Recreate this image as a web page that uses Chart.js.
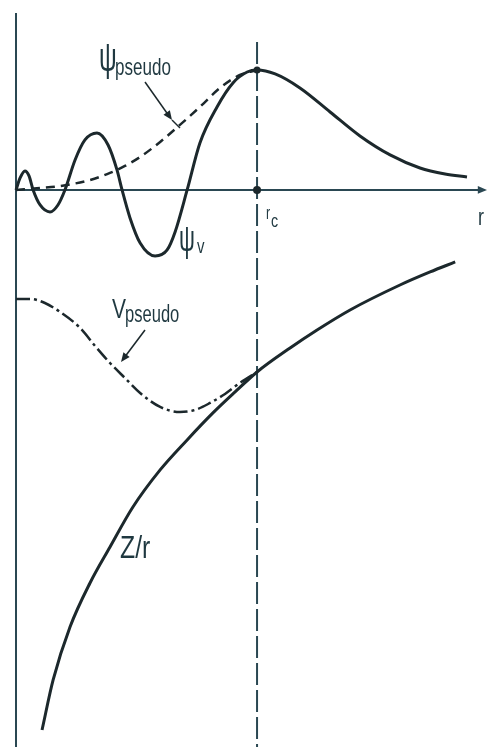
<!DOCTYPE html>
<html>
<head>
<meta charset="utf-8">
<script src="https://cdn.jsdelivr.net/npm/chart.js@4"></script>
<style>
  html, body { margin: 0; padding: 0; background: #fff; }
  #wrap { width: 487px; height: 747px; position: relative; }
</style>
</head>
<body>
<div id="wrap"><canvas id="myChart"></canvas></div>
<script>
// r in units of r_c, y in arbitrary units (psi peak = 1)
const psiVR = [0, 0.017, 0.037, 0.054, 0.071, 0.100, 0.141, 0.174, 0.203, 0.245, 0.286, 0.336, 0.382, 0.419, 0.440, 0.473, 0.515, 0.577, 0.627, 0.660, 0.710, 0.763, 0.834, 0.900, 0.959, 1.000, 1.075, 1.178, 1.303, 1.427, 1.552, 1.676, 1.780, 1.871];
const psiV  = [0, 0.10, 0.158, 0.117, 0, -0.125, -0.183, -0.125, 0, 0.25, 0.417, 0.475, 0.375, 0.167, 0, -0.233, -0.442, -0.55, -0.50, -0.35, 0, 0.392, 0.692, 0.892, 0.983, 1.0, 0.967, 0.85, 0.65, 0.45, 0.292, 0.183, 0.133, 0.108];

const psiPsR = [0, 0.100, 0.183, 0.307, 0.390, 0.452, 0.515, 0.598, 0.680, 0.763, 0.846, 0.929, 1.000];
const psiPs  = [0, 0.017, 0.033, 0.083, 0.142, 0.20, 0.275, 0.40, 0.542, 0.692, 0.85, 0.958, 1.0];

const vPsR = [0, 0.058, 0.120, 0.183, 0.266, 0.328, 0.390, 0.452, 0.515, 0.598, 0.680, 0.743, 0.805, 0.867, 0.929, 1.000];
const vPs  = [-0.908, -0.908, -0.942, -1.017, -1.15, -1.30, -1.442, -1.567, -1.692, -1.808, -1.85, -1.833, -1.775, -1.70, -1.608, -1.517];

const zrR = [0.108, 0.154, 0.224, 0.307, 0.390, 0.485, 0.598, 0.710, 0.817, 0.909, 1.000, 1.137, 1.249, 1.386, 1.593, 1.718, 1.822];
const zr  = [-4.5, -4.083, -3.642, -3.275, -2.975, -2.642, -2.333, -2.083, -1.858, -1.683, -1.517, -1.317, -1.167, -1.0, -0.792, -0.683, -0.60];

const rc = 1.0;
const rAxisEnd = 1.925;

const ink = '#1c282c';
const axisInk = '#2a4752';
const textInk = '#1f3840';

function pts(xs, ys) {
    return xs.map((x, i) => ({ x: x, y: ys[i] }));
}

function arrowHead(ctx, x1, y1, x2, y2, size) {
    const a = Math.atan2(y2 - y1, x2 - x1);
    ctx.beginPath();
    ctx.moveTo(x2, y2);
    ctx.lineTo(x2 - size * Math.cos(a - 0.4), y2 - size * Math.sin(a - 0.4));
    ctx.lineTo(x2 - size * Math.cos(a + 0.4), y2 - size * Math.sin(a + 0.4));
    ctx.closePath();
    ctx.fill();
}

// narrow text: scale horizontally around the start point
function narrowText(ctx, str, x, y, size, sx) {
    ctx.save();
    ctx.translate(x, y);
    ctx.scale(sx, 1);
    ctx.font = size + 'px "Liberation Sans"';
    ctx.fillText(str, 0, 0);
    ctx.restore();
}

const decor = {
    id: 'decor',
    beforeDatasetsDraw(chart) {
        const ctx = chart.ctx;
        const xs = chart.scales.x, ys = chart.scales.y;
        const X = v => xs.getPixelForValue(v), Y = v => ys.getPixelForValue(v);
        ctx.save();
        ctx.strokeStyle = axisInk;
        ctx.fillStyle = axisInk;
        ctx.lineWidth = 2;
        ctx.beginPath();
        ctx.moveTo(X(0), Y(1.475));
        ctx.lineTo(X(0), chart.height);
        ctx.stroke();
        ctx.beginPath();
        ctx.moveTo(X(0), Y(0));
        ctx.lineTo(X(rAxisEnd), Y(0));
        ctx.stroke();
        arrowHead(ctx, X(rAxisEnd) - 5, Y(0), X(rAxisEnd) + 7, Y(0), 10);
        ctx.setLineDash([22, 5]);
        ctx.beginPath();
        ctx.moveTo(X(rc), Y(1.233));
        ctx.lineTo(X(rc), chart.height);
        ctx.stroke();
        ctx.restore();
    },
    afterDatasetsDraw(chart) {
        const ctx = chart.ctx;
        const xs = chart.scales.x, ys = chart.scales.y;
        const X = v => xs.getPixelForValue(v), Y = v => ys.getPixelForValue(v);
        ctx.save();
        ctx.fillStyle = ink;
        ctx.strokeStyle = ink;
        ctx.beginPath();
        ctx.arc(X(rc), Y(0), 4, 0, Math.PI * 2);
        ctx.fill();
        ctx.beginPath();
        ctx.arc(X(rc), Y(1.0), 3.5, 0, Math.PI * 2);
        ctx.fill();

        ctx.fillStyle = textInk;
        ctx.textBaseline = 'alphabetic';
        // psi pseudo
        narrowText(ctx, '\u03C8', 99, 71, 40, 0.62);
        narrowText(ctx, 'pseudo', 115, 75, 24, 0.71);
        // psi v
        narrowText(ctx, '\u03C8', 179, 251, 36, 0.62);
        narrowText(ctx, 'v', 197, 253, 20, 0.75);
        // V pseudo
        narrowText(ctx, 'V', 112, 318, 28, 0.75);
        narrowText(ctx, 'pseudo', 125, 322, 23, 0.72);
        // Z/r
        narrowText(ctx, 'Z/r', 120, 558, 31, 0.8);
        // r_c
        narrowText(ctx, 'r', 266, 219, 18, 0.7);
        narrowText(ctx, 'c', 271, 227, 19, 0.75);
        // r
        narrowText(ctx, 'r', 478, 225, 24, 0.75);

        ctx.fillStyle = ink;
        ctx.lineWidth = 1.5;
        ctx.beginPath();
        ctx.moveTo(145, 82);
        ctx.lineTo(169, 116);
        ctx.stroke();
        arrowHead(ctx, 145, 82, 172, 120, 10);
        ctx.beginPath();
        ctx.moveTo(172, 120);
        ctx.lineTo(180, 128);
        ctx.stroke();

        ctx.beginPath();
        ctx.moveTo(145, 330);
        ctx.lineTo(124, 358);
        ctx.stroke();
        arrowHead(ctx, 145, 330, 121, 362, 10);
        ctx.restore();
    }
};

const data = {
    datasets: [{
        label: 'psi_v',
        data: pts(psiVR, psiV),
        borderColor: ink,
        borderWidth: 3,
    }, {
        label: 'psi_pseudo',
        data: pts(psiPsR, psiPs),
        borderColor: ink,
        borderWidth: 2.5,
        borderDash: [9, 6],
    }, {
        label: 'V_pseudo',
        data: pts(vPsR, vPs),
        borderColor: ink,
        borderWidth: 2.5,
        borderDash: [14, 4, 3, 4],
    }, {
        label: 'Z/r',
        data: pts(zrR, zr),
        borderColor: ink,
        borderWidth: 3,
    }]
};

const config = {
    type: 'scatter',
    data: data,
    options: {
        responsive: true,
        maintainAspectRatio: false,
        animation: false,
        showLine: true,
        layout: { padding: 0 },
        elements: {
            point: { radius: 0, hoverRadius: 0 },
            line: { cubicInterpolationMode: 'monotone', fill: false }
        },
        plugins: {
            legend: { display: false },
            tooltip: { enabled: false }
        },
        scales: {
            x: { type: 'linear', display: false, min: -0.0664, max: 1.954 },
            y: { type: 'linear', display: false, min: -4.642, max: 1.583 }
        }
    },
    plugins: [decor]
};

const myChart = new Chart(document.getElementById('myChart'), config);
</script>
</body>
</html>
